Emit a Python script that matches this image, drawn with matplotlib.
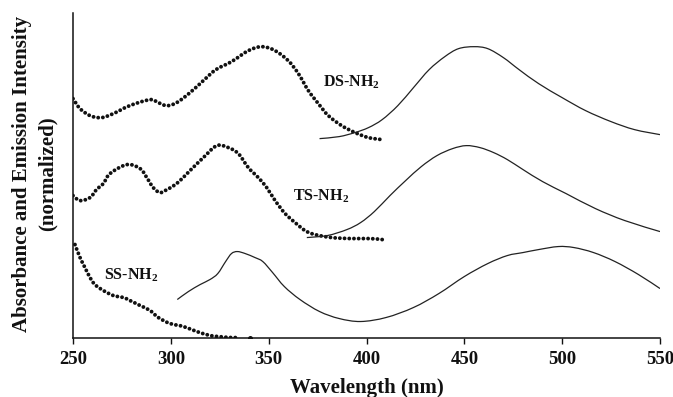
import matplotlib
matplotlib.use("Agg")
import matplotlib.pyplot as plt
from matplotlib.path import Path
from matplotlib.patches import PathPatch

# ---------------- data (wavelength nm, normalized/offset intensity) ----------------
ds_abs_x = [250, 253.6, 258.7, 264.5, 270.6, 279, 289.4, 293.6, 297.9, 303, 309.8, 316.6, 323,
            331, 339.6, 346.5, 353.3, 360, 365.2, 370.3, 375.4, 380.5, 387.3, 394.2, 401, 408]
ds_abs_y = [239, 229, 222, 220, 224, 232, 238, 235, 232, 235, 245, 257, 268,
            276, 287, 291, 287, 277, 264, 247, 234, 222, 212, 205, 200, 198]

ds_em_x = [376, 386, 394, 401, 408, 416, 424, 432, 440, 447, 455, 462, 470, 478, 488, 500,
           512, 525, 537, 550]
ds_em_y = [199, 201, 205, 210, 218, 232, 250, 268, 281, 289, 291, 289, 280, 268, 254, 240,
           227, 216, 208, 203]

ts_abs_x = [250, 253.6, 258.7, 262, 265.5, 268.9, 277.5, 284.3, 287.7, 291, 294.5, 298, 301.5,
            304.7, 309.8, 316.6, 323.5, 329.4, 334.5, 339.6, 344.7, 349, 353.3, 358.4, 363.5,
            368.6, 373.7, 382.2, 392, 401.8, 408]
ts_abs_y = [142, 137, 140, 148, 154, 164, 173, 169, 160, 150, 145, 148, 152,
            157, 167, 180, 192, 190, 184, 170, 160, 150, 137, 124, 115,
            107, 103, 100, 99, 99, 98]

ts_em_x = [369.5, 380, 390, 397, 404, 412, 420, 428, 436, 444, 451, 458, 465, 472, 480, 490,
           502, 517, 532, 550]
ts_em_y = [100, 102, 108, 115, 126, 142, 157, 171, 182, 189, 192, 190, 185, 178, 168, 156,
           144, 129, 117, 106]

ss_abs_x = [251, 253.6, 256.1, 258.7, 261.2, 265.5, 270.6, 275.7, 279.1, 284.3, 289.4, 293.6,
            299.6, 306.4, 313.2, 320, 324.3, 330, 335, 340.5]
ss_abs_y = [93, 80, 70, 60, 53, 47, 42, 40, 37, 32, 27, 20,
            14, 11, 6, 2, 1, 0, 0, 0]

ss_em_x = [303.3, 309, 315, 320, 324, 328, 331, 334, 338, 343, 347, 352, 358, 366, 376, 386,
           397, 410, 424, 437, 450, 462, 472, 480, 488, 498, 506, 516, 527, 539, 550]
ss_em_y = [38, 46, 53, 58, 64, 76, 84, 86, 84, 80, 76, 65, 51, 38, 26, 19,
           16, 20, 30, 44, 61, 74, 82, 85, 88, 91, 90, 85, 76, 63, 49]

labels = ["DS-NH$_2$", "TS-NH$_2$", "SS-NH$_2$"]
label_x = [352, 321, 131]
label_y = [255, 141, 62]
x_ticks = [250, 300, 350, 400, 450, 500, 550]

# ---------------- style ----------------
plt.rcParams["font.family"] = ["Liberation Serif", "DejaVu Serif"]
plt.rcParams["font.weight"] = "bold"
plt.rcParams["mathtext.fontset"] = "custom"
plt.rcParams["mathtext.rm"] = "Liberation Serif:bold"
plt.rcParams["mathtext.bf"] = "Liberation Serif:bold"
plt.rcParams["mathtext.it"] = "Liberation Serif:bold"

fig = plt.figure(figsize=(6.73, 3.97), dpi=100)
ax = fig.add_axes([73 / 673, 1 - 337.5 / 397, (660 - 73) / 673, (337.5 - 12.7) / 397])

ink = "#111111"


def smooth_path(xs, ys):
    """Catmull-Rom curve through the given points, drawn as cubic Bezier segments."""
    verts = [(xs[0], ys[0])]
    codes = [Path.MOVETO]
    n = len(xs)
    for i in range(n - 1):
        x0, y0 = (xs[i - 1], ys[i - 1]) if i > 0 else (xs[i], ys[i])
        x1, y1 = xs[i], ys[i]
        x2, y2 = xs[i + 1], ys[i + 1]
        x3, y3 = (xs[i + 2], ys[i + 2]) if i + 2 < n else (x2, y2)
        c1 = (x1 + (x2 - x0) / 6.0, y1 + (y2 - y0) / 6.0)
        c2 = (x2 - (x3 - x1) / 6.0, y2 - (y3 - y1) / 6.0)
        verts += [c1, c2, (x2, y2)]
        codes += [Path.CURVE4] * 3
    return Path(verts, codes)


def draw(xs, ys, dotted):
    if dotted:
        kw = dict(edgecolor=ink, lw=2.8, linestyle=(0, (0.01, 1.2)), capstyle="round")
    else:
        kw = dict(edgecolor="#222222", lw=0.9)
    ax.add_patch(PathPatch(smooth_path(xs, ys), facecolor="none", **kw))


draw(ds_abs_x, ds_abs_y, True)
draw(ts_abs_x, ts_abs_y, True)
draw(ss_abs_x[:-1], ss_abs_y[:-1], True)
ax.plot(ss_abs_x[-1:], ss_abs_y[-1:], "o", color=ink, ms=3.6, mec="none")

draw(ds_em_x, ds_em_y, False)
draw(ts_em_x, ts_em_y, False)
draw(ss_em_x, ss_em_y, False)

# label pixel positions -> data coordinates
for txt, px, py in zip(labels, label_x, label_y):
    wl = 250 + (px - 73) / (660 - 73) * 300
    ax.text(wl, py, txt, ha="center", va="center", fontsize=11.5, fontweight="bold", color=ink)

ax.set_xlim(250, 550)
ax.set_ylim(0, 325)
ax.set_xticks(x_ticks)
ax.set_xticklabels([str(t) for t in x_ticks], fontsize=13.5, fontweight="bold")
ax.set_yticks([])
ax.tick_params(axis="x", direction="out", length=4.5, width=1, pad=5, colors=ink)
for s in ("top", "right"):
    ax.spines[s].set_visible(False)
for s in ("left", "bottom"):
    ax.spines[s].set_linewidth(1.1)
    ax.spines[s].set_color(ink)

fig.text(366.5 / 673, 1 - 388 / 397, "Wavelength (nm)", ha="center", va="center",
         fontsize=15, fontweight="bold", color=ink)
fig.text(35 / 673, 1 - 174 / 397, "Absorbance and Emission Intensity\n(normalized)",
         ha="center", va="center", rotation=90, multialignment="center",
         fontsize=15, fontweight="bold", color=ink, linespacing=1.35)

fig.savefig("out.png", dpi=100)
